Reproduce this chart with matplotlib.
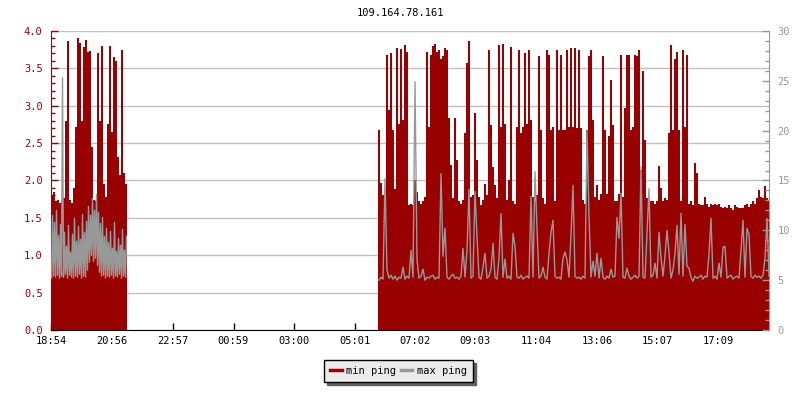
import numpy as np
import matplotlib
matplotlib.use("Agg")
import matplotlib.pyplot as plt

plt.rcParams['font.family'] = ['DejaVu Sans Mono']

title = "109.164.78.161"
tick_labels = ["18:54", "20:56", "22:57", "00:59", "03:00", "05:01",
               "07:02", "09:03", "11:04", "13:06", "15:07", "17:09"]
span_min = 1436          # minutes shown from 18:54

# first block of data, starts at 18:54
min_step1 = 4
min_ping1 = [1.80, 1.85, 1.72, 1.74, 1.70, 1.72, 1.76, 2.79, 3.87, 1.74,
             1.70, 1.90, 2.72, 3.90, 3.84, 2.80, 3.78, 3.88, 3.72, 3.73,
             2.45, 1.74, 1.72, 3.70, 2.80, 3.80, 1.95, 1.78, 2.75, 3.80,
             2.65, 3.65, 3.60, 2.32, 2.08, 3.75, 2.10, 1.95]
max_step1 = 2
max_ping1 = [5.2, 11.5, 5.4, 10.8, 5.3, 12.0, 5.5, 9.5, 5.2, 10.6,
             5.4, 25.3, 5.3, 9.8, 5.6, 8.4, 5.2, 10.5, 5.5, 7.8,
             5.3, 9.6, 5.2, 11.2, 5.4, 8.9, 5.3, 10.4, 5.6, 9.1,
             5.2, 11.6, 5.4, 9.8, 5.3, 10.9, 6.0, 12.4, 6.8, 11.5,
             7.5, 13.2, 6.9, 12.0, 7.2, 13.6, 6.5, 11.8, 5.8, 10.7,
             5.4, 11.3, 5.5, 9.4, 5.2, 10.2, 5.4, 8.8, 5.3, 9.9,
             5.5, 8.2, 5.2, 10.8, 5.4, 7.9, 5.3, 9.2, 5.6, 8.5,
             5.2, 10.1, 5.4, 8.0, 5.3, 9.4]

# second block, starts at 05:48 (654 min after 18:54)
start2 = 654
step2 = 4
min_ping2 = [2.67, 1.96, 1.81, 1.72, 3.68, 2.94, 3.70, 2.67, 1.89, 3.77,
             2.76, 3.76, 2.81, 3.81, 3.72, 1.67, 1.68, 1.67, 2.00, 1.85,
             1.72, 1.69, 1.72, 1.78, 3.72, 2.72, 3.68, 3.80, 3.83, 3.72,
             3.74, 3.63, 3.66, 3.77, 3.74, 2.83, 2.21, 1.76, 2.83, 2.27,
             1.72, 1.69, 1.74, 2.63, 3.57, 3.86, 1.78, 1.80, 2.90, 2.27,
             1.78, 1.67, 1.74, 1.95, 1.80, 3.75, 2.74, 2.18, 1.94, 1.76,
             3.81, 2.72, 3.83, 2.76, 1.74, 2.00, 3.79, 1.73, 1.69, 2.72,
             3.75, 2.63, 2.72, 3.70, 2.76, 3.75, 2.81, 1.78, 1.72, 1.80,
             3.66, 2.67, 1.76, 1.69, 3.75, 3.68, 2.67, 2.72, 1.72, 3.75,
             2.67, 3.68, 2.67, 2.67, 3.75, 2.72, 3.77, 2.72, 3.77, 2.70,
             3.75, 2.70, 1.74, 1.69, 2.67, 3.66, 3.75, 2.81, 1.78, 1.94,
             1.74, 1.82, 3.66, 2.67, 1.82, 2.59, 3.34, 2.74, 1.72, 1.72,
             1.82, 3.68, 1.78, 2.97, 3.68, 3.68, 2.67, 2.72, 3.68, 3.66,
             3.75, 2.14, 3.46, 2.54, 1.76, 1.74, 1.72, 1.72, 1.69, 1.72,
             2.19, 1.90, 1.72, 1.76, 1.74, 2.63, 3.81, 2.67, 3.63, 3.72,
             2.67, 1.72, 3.75, 2.72, 3.68, 1.69, 1.72, 1.67, 2.23, 2.10,
             1.69, 1.67, 1.67, 1.78, 1.69, 1.65, 1.69, 1.67, 1.69, 1.67,
             1.69, 1.65, 1.63, 1.65, 1.63, 1.67, 1.63, 1.61, 1.67, 1.65,
             1.63, 1.63, 1.63, 1.67, 1.69, 1.65, 1.69, 1.72, 1.69, 1.76,
             1.87, 1.78, 1.76, 1.92, 1.76, 1.74]
max_ping2 = [5.0, 5.3, 5.1, 15.2, 6.0, 5.2, 5.5, 5.1, 5.4, 5.0,
             5.3, 5.2, 6.3, 5.1, 5.4, 5.2, 8.0, 5.3, 24.9, 7.1,
             5.2, 5.4, 6.1, 5.0, 5.3, 5.2, 5.4, 5.5, 5.1, 5.3,
             5.2, 15.7, 7.4, 10.2, 5.3, 5.1, 5.4, 5.6, 5.2, 5.3,
             5.1, 5.4, 8.2, 5.3, 8.0, 14.1, 5.2, 5.4, 13.9, 9.4,
             5.3, 5.1, 6.3, 7.7, 5.2, 5.4, 6.1, 8.7, 5.3, 5.1,
             7.2, 11.7, 5.3, 7.1, 5.2, 5.4, 5.1, 9.7, 8.4, 5.3,
             5.2, 5.5, 5.1, 5.3, 5.4, 5.2, 13.4, 5.3, 15.9, 10.2,
             5.2, 5.4, 6.3, 5.3, 5.1, 7.7, 9.8, 11.0, 5.4, 5.2,
             5.3, 5.1, 7.2, 7.8, 7.0, 5.3, 9.6, 14.5, 5.4, 5.2,
             5.3, 5.1, 5.4, 5.2, 20.0, 11.5, 5.3, 6.9, 5.4, 7.7,
             5.2, 7.2, 5.3, 5.1, 5.4, 5.2, 6.1, 5.3, 5.4, 11.3,
             9.2, 13.7, 5.3, 5.2, 6.2, 5.4, 5.1, 5.3, 5.5, 5.2,
             5.4, 16.4, 5.3, 5.2, 9.6, 14.2, 5.3, 5.5, 6.7, 5.2,
             9.8, 7.3, 5.4, 7.4, 10.0, 7.8, 5.2, 6.0, 7.7, 10.5,
             5.6, 11.7, 5.4, 10.6, 6.4, 6.2, 5.3, 4.9, 5.4, 5.2,
             5.3, 5.5, 5.1, 5.4, 5.3, 7.6, 11.2, 5.2, 5.4, 5.1,
             6.7, 5.3, 8.3, 8.4, 5.2, 5.4, 5.5, 5.1, 5.3, 5.4,
             5.2, 8.0, 11.0, 5.3, 10.2, 9.6, 5.4, 5.2, 5.5, 5.3,
             5.4, 5.2, 5.5, 7.2, 11.2, 5.4]

red = '#990000'
gray = '#999999'

fig = plt.figure(figsize=(8, 4), dpi=100)
ax = fig.add_axes([51 / 800, 70 / 400, 718 / 800, 299 / 400])
ax2 = ax.twinx()

# min ping as filled columns
edges1 = np.arange(len(min_ping1) + 1) * min_step1
ax.stairs(min_ping1, edges1, fill=True, color=red, linewidth=0)
edges2 = start2 + np.arange(len(min_ping2) + 1) * step2
ax.stairs(min_ping2, edges2, fill=True, color=red, linewidth=0)

# max ping on right axis
t1 = np.arange(len(max_ping1)) * max_step1 + 1
t2 = start2 + np.arange(len(max_ping2)) * step2 + 2
tx = np.concatenate([t1, [np.nan], t2])
ty = np.concatenate([max_ping1, [np.nan], max_ping2])
ax2.plot(tx, ty, color=gray, linewidth=1.0)

ax.set_xlim(0, span_min)
ax.set_ylim(0, 4.0)
ax2.set_ylim(0, 30)

# ticks
def to_min(s):
    h, m = s.split(':')
    return (int(h) * 60 + int(m) - (18 * 60 + 54)) % 1440

ax.set_xticks([to_min(s) for s in tick_labels])
ax.set_xticklabels(tick_labels)
ax.tick_params(axis='x', direction='in', length=5, width=1, color='black',
               labelsize=7.5, pad=4)

ax.set_yticks(np.arange(0, 4.01, 0.5))
ax.set_yticks(np.arange(0, 4.01, 0.1), minor=True)
ax.set_yticklabels([f"{v:.1f}" for v in np.arange(0, 4.01, 0.5)])
ax.tick_params(axis='y', which='major', direction='in', length=5, width=1,
               color=red, labelcolor=red, labelsize=7.5, pad=6)
ax.tick_params(axis='y', which='minor', direction='in', length=3, width=1, color=red)

ax2.set_yticks(np.arange(0, 31, 5))
ax2.set_yticks(np.arange(0, 31, 1), minor=True)
ax2.tick_params(axis='y', which='major', direction='in', length=5, width=1,
                color=gray, labelcolor=gray, labelsize=7.5, pad=6)
ax2.tick_params(axis='y', which='minor', direction='in', length=3, width=1, color=gray)

ax.grid(axis='y', color='#c0c0c0', linewidth=1)
ax.set_axisbelow(True)

for a in (ax, ax2):
    a.spines['top'].set_visible(False)
ax.spines['left'].set_color(red)
ax.spines['bottom'].set_color('black')
ax.spines['right'].set_visible(False)
ax2.spines['left'].set_visible(False)
ax2.spines['bottom'].set_visible(False)
ax2.spines['right'].set_color(gray)

fig.text(0.5, 1 - 13 / 400, title, ha='center', va='center', fontsize=7.5)

handles = [plt.Line2D([], [], color=red, linewidth=2.5),
           plt.Line2D([], [], color=gray, linewidth=2.5)]
leg = fig.legend(handles, ["min ping", "max ping"], ncol=2,
                 loc='center', bbox_to_anchor=(0.498, 0.0725),
                 fontsize=7.5, frameon=True, fancybox=False,
                 facecolor='#ebebeb', edgecolor='black', framealpha=1,
                 handlelength=1.1, handletextpad=0.4, columnspacing=0.5,
                 borderpad=0.6, shadow={'color': '#606060', 'alpha': 1})
leg.get_frame().set_linewidth(1)

fig.savefig("out.png", dpi=100)
